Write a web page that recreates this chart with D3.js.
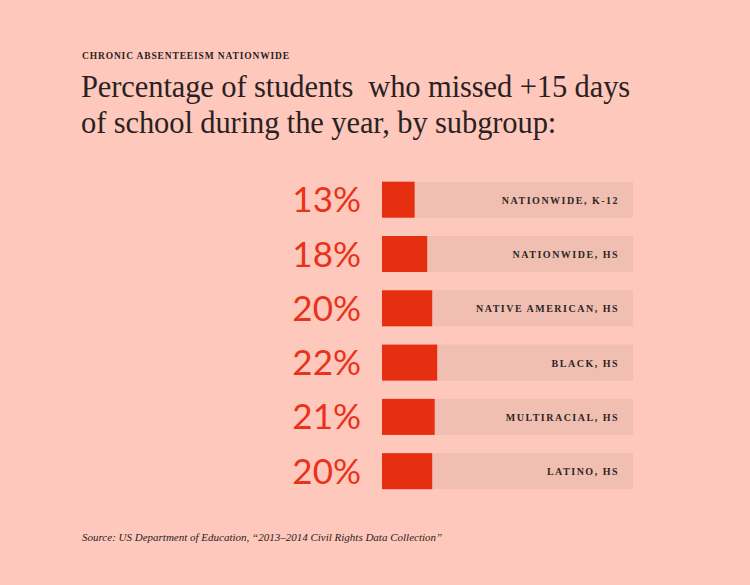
<!DOCTYPE html>
<html>
<head>
<meta charset="utf-8">
<script src="https://cdn.jsdelivr.net/npm/d3@7"></script>
<style>
  html, body { margin: 0; padding: 0; background: #FFC8BC; }
  svg { display: block; }
</style>
</head>
<body>
<svg id="chart" width="750" height="585"></svg>
<script>
const categories = ["NATIONWIDE, K-12", "NATIONWIDE, HS", "NATIVE AMERICAN, HS", "BLACK, HS", "MULTIRACIAL, HS", "LATINO, HS"];
const values = [13, 18, 20, 22, 21, 20];
const valueLabels = ["13%", "18%", "20%", "22%", "21%", "20%"];
const kicker = "CHRONIC ABSENTEEISM NATIONWIDE";
const titleLines = ["Percentage of students  who missed +15 days", "of school during the year, by subgroup:"];
const source = "Source: US Department of Education, \u201c2013\u20132014 Civil Rights Data Collection\u201d";

const svg = d3.select("#chart");
const W = 750, H = 585;
svg.append("rect").attr("width", W).attr("height", H).attr("fill", "#FFC8BC");

const serif = "'Liberation Serif', 'DejaVu Serif', serif";
const textDark = "#2a2222";

svg.append("text").attr("x", 82).attr("y", 59)
  .attr("font-family", serif).attr("font-weight", "bold").attr("font-size", 9.5)
  .attr("letter-spacing", 0.85).attr("fill", textDark).text(kicker);

svg.selectAll("text.title").data(titleLines).join("text")
  .attr("class", "title")
  .attr("x", 81).attr("y", (d, i) => 97 + i * 36)
  .attr("font-family", serif).attr("font-size", 30.5)
  .attr("letter-spacing", -0.1)
  .attr("fill", textDark).attr("xml:space", "preserve")
  .style("white-space", "pre")
  .text(d => d);

const x0 = 382, x1 = 633;
const x = d3.scaleLinear().domain([0, 100]).range([0, x1 - x0]);
const y = d3.scaleBand().domain(categories).range([181.7, 489.2]).paddingInner(0.337).paddingOuter(0);

const rows = svg.selectAll("g.row").data(categories).join("g")
  .attr("class", "row")
  .attr("transform", d => `translate(0,${y(d)})`);

rows.append("rect").attr("x", x0).attr("y", 0)
  .attr("width", x1 - x0).attr("height", y.bandwidth())
  .attr("fill", "#F0BFB2");

rows.append("rect").attr("x", x0).attr("y", 0)
  .attr("width", (d, i) => x(values[i])).attr("height", y.bandwidth())
  .attr("fill", "#E62E10");

rows.append("text")
  .attr("x", 361).attr("y", y.bandwidth() / 2 + 12.5)
  .attr("text-anchor", "end")
  .attr("font-family", "Lato, 'Open Sans', sans-serif").attr("font-size", 35)
  .attr("fill", "#E8331A")
  .text((d, i) => valueLabels[i]);

rows.append("text")
  .attr("x", 619).attr("y", y.bandwidth() / 2 + 4)
  .attr("text-anchor", "end")
  .attr("font-family", serif).attr("font-weight", "bold").attr("font-size", 10)
  .attr("letter-spacing", 1.5)
  .attr("fill", "#2e2626")
  .text(d => d);

svg.append("text").attr("x", 82).attr("y", 541)
  .attr("font-family", serif).attr("font-style", "italic").attr("font-size", 11)
  .attr("fill", textDark).text(source);
</script>
</body>
</html>
